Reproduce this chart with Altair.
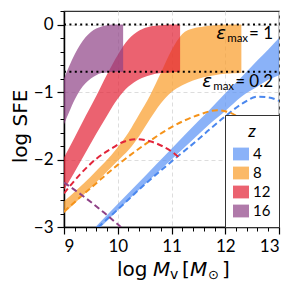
import altair as alt
import pandas as pd

# ---------------- data ----------------
z_labels = ["4", "8", "12", "16"]
band_colors = ["#5892f5", "#f99b26", "#e22033", "#8e4186"]
dash_colors = ["#4a87ee", "#f5931a", "#e2253a", "#8e4186"]

# bands: upper edge (eps_max = 1) and lower edge (eps_max = 0.2)
x4 = [9.5, 10.0, 10.5, 11.0, 11.5, 11.7, 12.0, 12.3, 12.6, 12.8, 13.0]
up4 = [-3.07, -2.66, -2.25, -1.84, -1.43, -1.27, -1.02, -0.78, -0.53, -0.37, -0.20]
lo4 = [-3.15, -2.75, -2.37, -2.00, -1.63, -1.48, -1.28, -1.07, -0.92, -0.82, -0.75]

x8 = [9.0, 9.5, 10.0, 10.2, 10.4, 10.6, 10.8, 11.0, 11.2, 11.4, 11.6, 11.8, 12.0, 12.3]
up8 = [-2.62, -2.25, -1.82, -1.60, -1.33, -1.05, -0.72, -0.38, -0.14, -0.06, -0.03, -0.01, 0.0, 0.0]
lo8 = [-2.80, -2.42, -2.02, -1.86, -1.65, -1.40, -1.17, -1.00, -0.90, -0.83, -0.78, -0.75, -0.73, -0.72]

x12 = [9.0, 9.2, 9.4, 9.6, 9.8, 10.0, 10.2, 10.4, 10.6, 10.8, 11.0, 11.16]
up12 = [-1.97, -1.67, -1.36, -1.06, -0.74, -0.45, -0.22, -0.09, -0.03, -0.01, 0.0, 0.0]
lo12 = [-2.45, -2.18, -1.90, -1.62, -1.35, -1.10, -0.92, -0.81, -0.75, -0.72, -0.71, -0.70]

x16 = [9.0, 9.1, 9.2, 9.3, 9.4, 9.5, 9.6, 9.7, 9.8, 9.9, 10.0, 10.1]
up16 = [-0.80, -0.61, -0.44, -0.30, -0.19, -0.11, -0.06, -0.03, -0.01, 0.0, 0.0, 0.0]
lo16 = [-1.48, -1.29, -1.11, -0.97, -0.87, -0.80, -0.75, -0.72, -0.71, -0.70, -0.70, -0.70]

# dashed curves
dx4 = [9.5, 10.0, 10.5, 11.0, 11.5, 11.7, 12.0, 12.3, 12.6, 12.8, 13.0]
dy4 = [-3.10, -2.74, -2.37, -2.03, -1.70, -1.56, -1.36, -1.18, -1.07, -1.08, -1.13]
dx8 = [9.0, 9.5, 10.0, 10.5, 11.0, 11.5, 11.85, 12.1, 12.3]
dy8 = [-2.77, -2.42, -2.08, -1.78, -1.52, -1.34, -1.27, -1.31, -1.41]
dx12 = [9.0, 9.3, 9.6, 9.9, 10.1, 10.35, 10.6, 10.85, 11.0, 11.16]
dy12 = [-2.50, -2.22, -1.99, -1.83, -1.74, -1.70, -1.73, -1.81, -1.88, -1.98]
dx16 = [9.0, 9.25, 9.5, 9.75, 10.0, 10.1]
dy16 = [-2.34, -2.48, -2.63, -2.79, -2.96, -3.03]

eps_levels = [0.0, -0.699]
eps_texts = ["= 1", "= 0.2"]

x_major = [9, 10, 11, 12, 13]
x_minor = [9.2, 9.4, 9.6, 9.8, 10.2, 10.4, 10.6, 10.8, 11.2, 11.4, 11.6, 11.8,
           12.2, 12.4, 12.6, 12.8]
y_major = [0, -1, -2, -3]
y_minor = [0.2, -0.2, -0.4, -0.6, -0.8, -1.2, -1.4, -1.6, -1.8, -2.2, -2.4, -2.6, -2.8]

FONT = "Lato"
TFONT = "DejaVu Sans"

# ---------------- scales / axes ----------------
xs = alt.Scale(domain=[9, 13], nice=False, zero=False)
ys = alt.Scale(domain=[-3, 0.2], nice=False, zero=False)
cscale = alt.Scale(domain=z_labels, range=band_colors)

ax_x = alt.Axis(values=x_major, title=None, orient="bottom", tickSize=7, tickWidth=1.2,
                tickColor="black", labelPadding=4, labelFontSize=17, labelColor="black",
                grid=True, gridDash=[4, 3], gridColor="#dddddd", gridWidth=1,
                domain=True, domainColor="black", domainWidth=1.5, format="d")
ax_y = alt.Axis(values=y_major, title="log SFE", orient="left", tickSize=7, tickWidth=1.2,
                tickColor="black", labelPadding=4, labelFontSize=17, labelColor="black",
                grid=True, gridDash=[4, 3], gridColor="#dddddd", gridWidth=1,
                domain=True, domainColor="black", domainWidth=1.5, format="d",
                titleFont=TFONT, titleFontSize=20, titleFontWeight="normal",
                titleColor="black", titlePadding=3, titleY=115)
ax_xm = alt.Axis(values=x_minor, title=None, orient="bottom", labels=False, tickSize=4,
                 tickWidth=1, tickColor="black", grid=False, domain=False)
ax_ym = alt.Axis(values=y_minor, title=None, orient="left", labels=False, tickSize=4,
                 tickWidth=1, tickColor="black", grid=False, domain=False)

legend = alt.Legend(title="z", orient="bottom-right", offset=0, padding=8,
                    strokeColor="#333333", fillColor="white", cornerRadius=0,
                    titleFontStyle="italic", titleFontSize=18, titleFontWeight="normal",
                    titleAnchor="middle", titlePadding=5, labelFontSize=15,
                    symbolType="M-1,-0.8H1V0.8H-1Z", symbolSize=256, symbolStrokeWidth=0,
                    rowPadding=3, labelOffset=4)


def X(field):
    return alt.X(field, type="quantitative", scale=xs, axis=ax_x)


def Y(field):
    return alt.Y(field, type="quantitative", scale=ys, axis=ax_y)


def band(xv, up, lo, z):
    df = pd.DataFrame({"x": xv, "up": up, "lo": lo, "z": [z] * len(xv)})
    return alt.Chart(df).mark_area(opacity=0.7, interpolate="monotone", clip=True).encode(
        x=X("x"), y=Y("up"), y2="lo",
        color=alt.Color("z:N", scale=cscale, legend=legend))


def dashed(xv, yv, col):
    df = pd.DataFrame({"x": xv, "y": yv})
    return alt.Chart(df).mark_line(color=col, strokeWidth=2, strokeDash=[6, 3.5],
                                   interpolate="monotone", clip=True).encode(x=X("x"), y=Y("y"))


layers = [
    band(x4, up4, lo4, "4"),
    band(x8, up8, lo8, "8"),
    band(x12, up12, lo12, "12"),
    band(x16, up16, lo16, "16"),
    dashed(dx4, dy4, dash_colors[0]),
    dashed(dx8, dy8, dash_colors[1]),
    dashed(dx12, dy12, dash_colors[2]),
    dashed(dx16, dy16, dash_colors[3]),
]

dot_df = pd.DataFrame({"x0": [9, 9], "x1": [13, 13], "y": eps_levels})
layers.append(alt.Chart(dot_df).mark_rule(color="black", strokeWidth=2, strokeDash=[2, 3.4]).encode(
    x=X("x0"), x2="x1", y=Y("y")))

# epsilon_max labels
ann = pd.DataFrame({"x": [12.89, 12.89], "y": [-0.215, -0.93], "t": eps_texts,
                    "dm": [-25, -39], "de": [-47, -61]})
for i in range(2):
    row = ann.iloc[[i]]
    layers.append(alt.Chart(row).mark_text(align="right", baseline="alphabetic", fontSize=17,
                                           font=FONT).encode(x=X("x"), y=Y("y"), text="t:N"))
    layers.append(alt.Chart(row).mark_text(align="right", baseline="alphabetic", fontSize=11.5,
                                           font=FONT, dx=float(row["dm"].iloc[0]), dy=3).encode(
        x=X("x"), y=Y("y"), text=alt.value("max")))
    layers.append(alt.Chart(row).mark_text(align="right", baseline="alphabetic", fontSize=18,
                                           font=TFONT, fontStyle="italic",
                                           dx=float(row["de"].iloc[0])).encode(
        x=X("x"), y=Y("y"), text=alt.value("ε")))

content = alt.layer(*layers)

# minor ticks
minor_df = pd.DataFrame({"x": x_minor[:13], "y": y_minor})
minor = alt.Chart(minor_df).mark_point(opacity=0).encode(
    x=alt.X("x:Q", scale=xs, axis=ax_xm), y=alt.Y("y:Q", scale=ys, axis=ax_ym))

# x-axis title pieces (log M_v [M_sun])
tparts = [("log", 53, 265, 20, "normal"), ("M", 89, 265, 20, "italic"),
          ("v", 106, 268, 14, "normal"), ("[", 118, 265, 20, "normal"),
          ("M", 126, 265, 20, "italic"), ("⊙", 144, 268, 13, "normal"),
          ("]", 158, 265, 20, "normal")]
title_layers = []
for t, px, py, fs, st in tparts:
    title_layers.append(alt.Chart(pd.DataFrame({"t": [t]})).mark_text(
        align="left", baseline="alphabetic", fontSize=fs, fontStyle=st, font=TFONT,
        color="black").encode(x=alt.value(px), y=alt.value(py), text="t:N"))

chart = alt.layer(content, minor, *title_layers).resolve_axis(
    x="independent", y="independent").properties(
    width=215, height=216,
    padding={"left": 56, "top": 3, "right": 7, "bottom": 55},
    autosize=alt.AutoSizeParams(type="none"),
).configure(font=FONT).configure_view(stroke="#333333", strokeWidth=1.2).configure_axis(
    labelFont=FONT, titleFont=FONT).configure_legend(labelFont=FONT, titleFont=FONT)

chart.save("out.html", embed_options={"renderer": "svg", "actions": False})
